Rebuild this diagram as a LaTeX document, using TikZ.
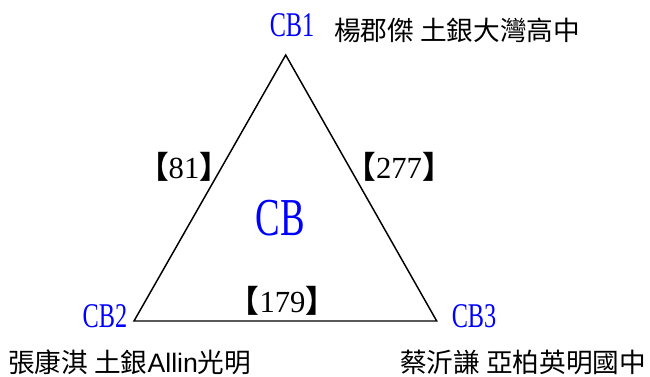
\documentclass[tikz,border=0pt]{standalone}
\usepackage{fontspec}
\usepackage{graphicx}
\setmainfont{Liberation Serif}
\newfontfamily\cjk{Noto Sans CJK TC}
\newfontfamily\arialf{Liberation Sans}
\newcommand\nar[2]{\scalebox{#1}[1]{#2}}
\newcommand\brk[1]{{\cjk\bfseries\fontsize{23pt}{23pt}\selectfont 【}\kern0pt{\fontsize{23pt}{23pt}\selectfont #1}\kern0pt{\cjk\bfseries\fontsize{23pt}{23pt}\selectfont 】}}
\definecolor{cbblue}{RGB}{0,0,255}
\begin{document}
\begin{tikzpicture}[x=0.75pt,y=-0.75pt,
  cblab/.style={text=cbblue,inner sep=0pt,font=\fontsize{26pt}{26pt}\selectfont},
  person/.style={inner sep=0pt,anchor=west,font=\cjk\fontsize{20pt}{20pt}\selectfont},
  weight/.style={inner sep=0pt},
  edge/.style={line width=1.1pt,line join=miter}]
\useasboundingbox (0,0) rectangle (650,376);
\coordinate (v1) at (285.7,55);
\coordinate (v2) at (134,321);
\coordinate (v3) at (436.7,321);
\draw[edge] (v1) -- (v2) -- (v3) -- cycle;
\node[cblab] (cb1) at (292,25) {\nar{0.7}{CB1}};
\node[cblab] (cb2) at (105,316) {\nar{0.7}{CB2}};
\node[cblab] (cb3) at (474,316) {\nar{0.7}{CB3}};
\node[cblab,font=\fontsize{40pt}{40pt}\selectfont] (cb) at (280,218) {\nar{0.69}{CB}};
\node[person] (n1) at (334,30) {楊郡傑 土銀大灣高中};
\node[person] (n2) at (8,362) {張康淇 土銀{\arialf Allin}光明};
\node[person] (n3) at (400,362) {蔡沂謙 亞柏英明國中};
\node[weight] (w12) at (184,167) {\brk{81}};
\node[weight] (w13) at (399,167) {\brk{277}};
\node[weight] (w23) at (282.5,301) {\brk{179}};
\end{tikzpicture}
\end{document}
